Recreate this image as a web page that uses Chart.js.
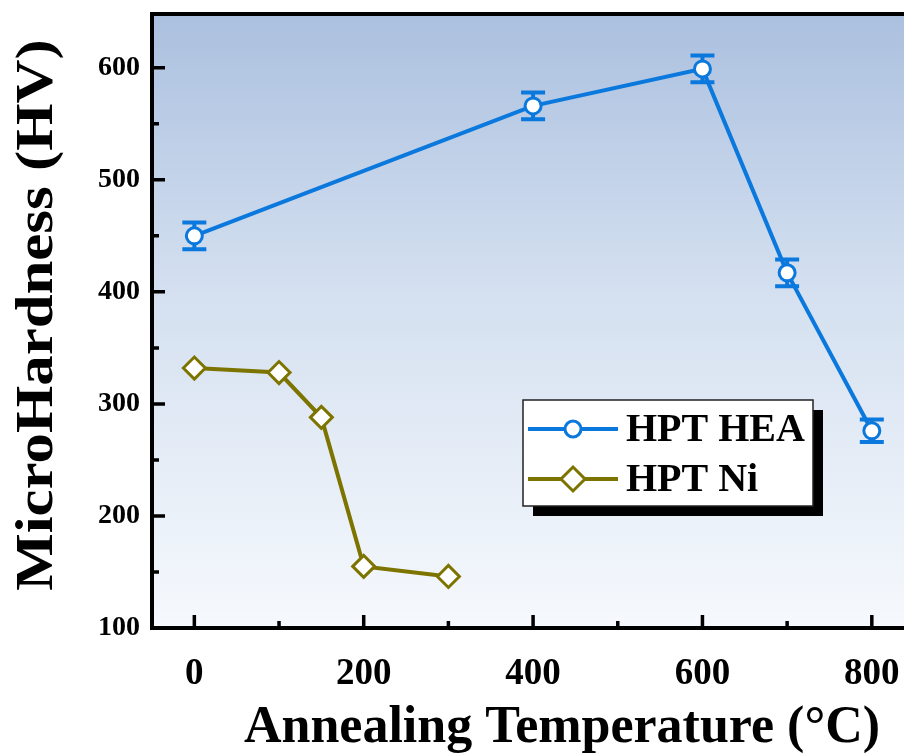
<!DOCTYPE html>
<html lang="en">
<head>
<meta charset="utf-8">
<title>MicroHardness vs Annealing Temperature</title>
<script src="https://cdn.jsdelivr.net/npm/chart.js"></script>
<style>
  html, body { margin: 0; padding: 0; background: #fff; overflow: hidden; }
  /* slightly wider than the window: the plot runs off the right edge like the original */
  #wrap { position: relative; width: 918px; height: 754px; }
</style>
</head>
<body>
<div id="wrap"><canvas id="hardnessChart"></canvas></div>
<script>
  // data
  const heaTemps = [0, 400, 600, 700, 800];
  const heaHardness = [450, 566, 599, 417, 276];
  const heaError = [12, 12, 12, 12, 10];
  const niTemps = [0, 100, 150, 200, 300];
  const niHardness = [332, 328, 288, 155, 146];

  const xTickValues = [0, 100, 200, 300, 400, 500, 600, 700, 800];
  const xMajorTicks = [0, 200, 400, 600, 800];
  const yTickValues = [100, 150, 200, 250, 300, 350, 400, 450, 500, 550, 600];
  const yMajorTicks = [100, 200, 300, 400, 500, 600];
  const seriesNames = ['HPT HEA', 'HPT Ni'];
  const xTitle = 'Annealing Temperature (°C)';
  const yTitle = 'MicroHardness (HV)';

  const SERIF = '"Liberation Serif", "DejaVu Serif", serif';
  const heaColor = '#0a78dc';
  const niColor = '#7d7400';

  // blue to white fill of the plot area
  const backdrop = {
    id: 'backdrop',
    beforeDraw(chart) {
      const { ctx, chartArea: a } = chart;
      const g = ctx.createLinearGradient(0, a.top, 0, a.bottom);
      g.addColorStop(0, '#abc0df');
      g.addColorStop(0.45, '#d4e0f0');
      g.addColorStop(1, '#f6f9fd');
      ctx.save();
      ctx.fillStyle = g;
      ctx.fillRect(a.left, a.top, a.right - a.left, a.bottom - a.top);
      ctx.restore();
    }
  };

  // error bars for the HEA series, drawn under the markers
  const errorBars = {
    id: 'errorBars',
    beforeDatasetsDraw(chart) {
      const { ctx, scales: { y } } = chart;
      const meta = chart.getDatasetMeta(0);
      ctx.save();
      ctx.strokeStyle = heaColor;
      ctx.lineWidth = 4;
      meta.data.forEach((pt, i) => {
        const top = y.getPixelForValue(heaHardness[i] + heaError[i]);
        const bot = y.getPixelForValue(heaHardness[i] - heaError[i]);
        ctx.beginPath();
        ctx.moveTo(pt.x, top); ctx.lineTo(pt.x, bot);
        ctx.moveTo(pt.x - 12, top); ctx.lineTo(pt.x + 12, top);
        ctx.moveTo(pt.x - 12, bot); ctx.lineTo(pt.x + 12, bot);
        ctx.stroke();
      });
      ctx.restore();
    }
  };

  // top frame line, inward tick marks and the two axis titles
  const frame = {
    id: 'frame',
    afterDraw(chart) {
      const { ctx, chartArea: a, scales: { x, y } } = chart;
      ctx.save();
      ctx.strokeStyle = '#000';
      ctx.lineWidth = 4;
      ctx.beginPath();
      ctx.moveTo(a.left - 2, a.top);
      ctx.lineTo(a.right, a.top);
      ctx.stroke();
      ctx.lineWidth = 3.5;
      ctx.beginPath();
      xTickValues.forEach(v => {
        const px = x.getPixelForValue(v);
        const len = xMajorTicks.includes(v) ? 13 : 7;
        ctx.moveTo(px, a.bottom); ctx.lineTo(px, a.bottom - len);
      });
      yTickValues.forEach(v => {
        const py = y.getPixelForValue(v);
        const len = yMajorTicks.includes(v) ? 13 : 7;
        ctx.moveTo(a.left, py); ctx.lineTo(a.left + len, py);
      });
      ctx.stroke();

      ctx.fillStyle = '#000';
      ctx.textAlign = 'center';
      ctx.font = 'bold 52px ' + SERIF;
      ctx.textBaseline = 'alphabetic';
      ctx.fillText(xTitle, 562, 742);

      ctx.translate(52, 315);
      ctx.rotate(-Math.PI / 2);
      ctx.scale(1.17, 1);
      ctx.fillText(yTitle, 0, 0);
      ctx.restore();
    }
  };

  // boxed legend with a drop shadow
  const boxLegend = {
    id: 'boxLegend',
    afterDraw(chart) {
      const ctx = chart.ctx;
      const bx = 523, by = 400, bw = 290, bh = 106;
      ctx.save();
      ctx.fillStyle = '#000';
      ctx.fillRect(bx + 10, by + 10, bw, bh);
      ctx.fillStyle = '#fff';
      ctx.fillRect(bx, by, bw, bh);
      ctx.strokeStyle = '#222';
      ctx.lineWidth = 1.5;
      ctx.strokeRect(bx, by, bw, bh);

      const rows = [
        { name: seriesNames[0], color: heaColor, y: by + 29, shape: 'circle' },
        { name: seriesNames[1], color: niColor, y: by + 79, shape: 'diamond' }
      ];
      rows.forEach(r => {
        ctx.strokeStyle = r.color;
        ctx.lineWidth = 4;
        ctx.beginPath();
        ctx.moveTo(bx + 5, r.y); ctx.lineTo(bx + 95, r.y);
        ctx.stroke();
        ctx.fillStyle = '#fff';
        ctx.lineWidth = 3;
        ctx.beginPath();
        if (r.shape === 'circle') {
          ctx.arc(bx + 50, r.y, 8, 0, Math.PI * 2);
        } else {
          ctx.moveTo(bx + 50, r.y - 12); ctx.lineTo(bx + 62, r.y);
          ctx.lineTo(bx + 50, r.y + 12); ctx.lineTo(bx + 38, r.y);
          ctx.closePath();
        }
        ctx.fill();
        ctx.stroke();
        ctx.fillStyle = '#000';
        ctx.font = 'bold 40px ' + SERIF;
        ctx.textBaseline = 'middle';
        ctx.fillText(r.name, bx + 103, r.y + 2);
      });
      ctx.restore();
    }
  };

  function noLabelPadding(s) {
    s.paddingTop = 0; s.paddingBottom = 0;
    s.paddingLeft = 0; s.paddingRight = 0;
  }

  const ctx = document.getElementById('hardnessChart');
  new Chart(ctx, {
    type: 'line',
    data: {
      datasets: [{
        label: seriesNames[0],
        data: heaTemps.map((t, i) => ({ x: t, y: heaHardness[i] })),
        borderColor: heaColor,
        borderWidth: 4,
        pointStyle: 'circle',
        pointRadius: 8,
        pointBorderWidth: 3,
        pointBackgroundColor: '#fff',
        pointBorderColor: heaColor,
        tension: 0
      }, {
        label: seriesNames[1],
        data: niTemps.map((t, i) => ({ x: t, y: niHardness[i] })),
        borderColor: niColor,
        borderWidth: 4,
        pointStyle: 'rectRot',
        pointRadius: 11,
        pointBorderWidth: 3,
        pointBackgroundColor: '#fff',
        pointBorderColor: niColor,
        tension: 0
      }]
    },
    options: {
      responsive: true,
      maintainAspectRatio: false,
      animation: false,
      layout: { padding: { top: 10, right: 0, bottom: 0, left: 0 } },
      plugins: {
        legend: { display: false },
        tooltip: { enabled: false }
      },
      scales: {
        x: {
          type: 'linear',
          min: -50,
          max: 838,
          afterBuildTicks: s => { s.ticks = xTickValues.map(v => ({ value: v })); },
          afterFit: s => { s.height = 126; noLabelPadding(s); },
          grid: { display: false, drawTicks: false },
          border: { display: true, color: '#000', width: 4 },
          ticks: {
            autoSkip: false,
            maxRotation: 0,
            padding: 24,
            color: '#000',
            font: { family: SERIF, size: 37, weight: 'bold' },
            callback: v => xMajorTicks.includes(v) ? v : ''
          },
          title: { display: false }
        },
        y: {
          min: 100,
          max: 648,
          afterBuildTicks: s => { s.ticks = yTickValues.map(v => ({ value: v })); },
          afterFit: s => { s.width = 152; noLabelPadding(s); },
          grid: { display: false, drawTicks: false },
          border: { display: true, color: '#000', width: 4 },
          ticks: {
            autoSkip: false,
            padding: 12,
            color: '#000',
            font: { family: SERIF, size: 28, weight: 'bold' },
            callback: v => yMajorTicks.includes(v) ? v : ''
          },
          title: { display: false }
        }
      }
    },
    plugins: [backdrop, errorBars, frame, boxLegend]
  });
</script>
</body>
</html>
